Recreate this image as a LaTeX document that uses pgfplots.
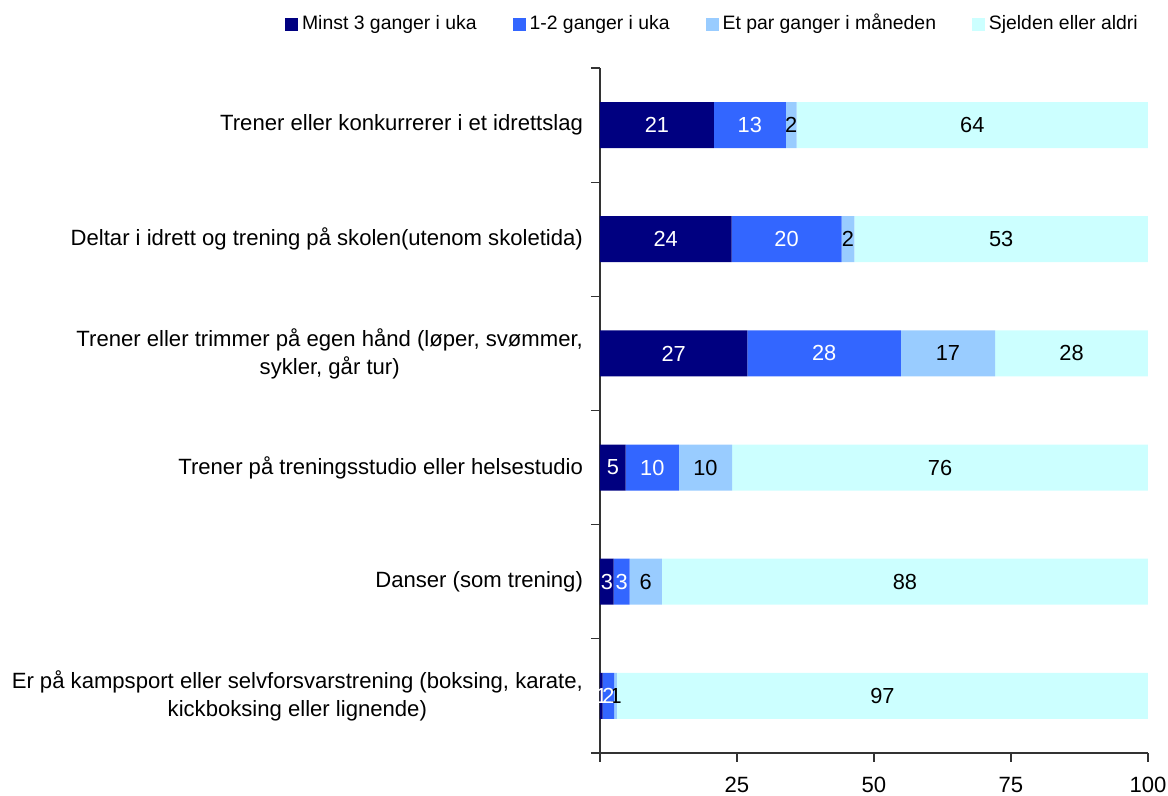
\documentclass[border=0pt]{standalone}
\usepackage{fontspec}
\setmainfont{Liberation Sans}
\usepackage{pgfplots}
\usepackage{pgfplotstable}
\pgfplotsset{compat=1.18}
\definecolor{cA}{HTML}{000080}
\definecolor{cB}{HTML}{3366FF}
\definecolor{cC}{HTML}{99CCFF}
\definecolor{cD}{HTML}{CCFFFF}
\pgfplotstableread{
y a la b lb c lc d ld
5 20.8 21 13.1 13 2.0 2 64.1 64
4 24.0 24 20.1 20 2.3 2 53.6 53
3 26.9 27 28.0 28 17.2 17 27.9 28
2 4.7 5 9.7 10 9.7 10 75.9 76
1 2.5 3 2.9 3 5.9 6 88.7 88
0 0.5 1 2.1 2 0.5 1 96.9 97
}\data
\newcommand{\lf}{\fontsize{11.05}{14}\selectfont}
\newcommand{\barf}{\fontsize{10.9}{13}\selectfont}
\begin{document}
\begin{tikzpicture}
\path[use as bounding box] (-300pt,-21.5pt) rectangle (284pt,376.5pt);
\begin{axis}[
  at={(0,0)}, anchor=south west,
  scale only axis, width=274pt, height=342.5pt,
  xbar stacked, bar width=23pt,
  xmin=0, xmax=100, ymin=-0.5, ymax=5.5,
  axis lines*=left,
  axis line style={black!80, line width=0.6pt},
  tick style={black!80, line width=0.6pt},
  tick align=outside,
  major tick length=4.5pt,
  xtick={0,25,50,75,100},
  xticklabels={,25,50,75,100},
  xticklabel style={yshift=-4pt},
  ytick={-0.5,0.5,1.5,2.5,3.5,4.5,5.5},
  yticklabels={},
  extra y ticks={0,1,2,3,4,5},
  extra y tick labels={{Er på kampsport eller selvforsvarstrening (boksing, karate,\\kickboksing eller lignende)},
    {Danser (som trening)},
    {Trener på treningsstudio eller helsestudio},
    {Trener eller trimmer på egen hånd (løper, svømmer,\\sykler, går tur)},
    {Deltar i idrett og trening på skolen(utenom skoletida)},
    {Trener eller konkurrerer i et idrettslag}},
  extra y tick style={major tick length=0pt, yticklabel style={align=center, xshift=-5pt}},
  tick label style={font=\lf, text=black},
  /pgf/number format/assume math mode=true,
  legend columns=4,
  legend style={at={(-0.586,1.064)}, anchor=west, draw=none, fill=none,
    font=\fontsize{9.7}{11}\selectfont, cells={anchor=west, text height=7pt, text depth=2.2pt},
    /tikz/every even column/.append style={column sep=16pt}},
  legend image code/.code={\fill[#1] (0pt,-3.2pt) rectangle (6.4pt,3.2pt);},
  nodes near coords, point meta=explicit symbolic,
]
\addplot[fill=cA, draw=none,
  every node near coord/.append style={anchor=center, text=white, font=\barf}]
  table[x=a, y=y, meta=la] {\data};
\addplot[fill=cB, draw=none,
  every node near coord/.append style={anchor=center, text=white, font=\barf}]
  table[x=b, y=y, meta=lb] {\data};
\addplot[fill=cC, draw=none,
  every node near coord/.append style={anchor=center, text=black, font=\barf}]
  table[x=c, y=y, meta=lc] {\data};
\addplot[fill=cD, draw=none,
  every node near coord/.append style={anchor=center, text=black, font=\barf}]
  table[x=d, y=y, meta=ld] {\data};
\legend{Minst 3 ganger i uka, 1-2 ganger i uka, Et par ganger i måneden, Sjelden eller aldri}
\end{axis}
\end{tikzpicture}
\end{document}
